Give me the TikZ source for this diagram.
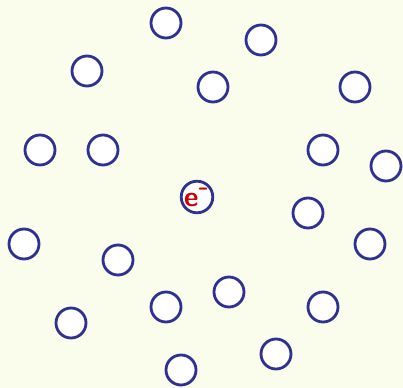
\documentclass[tikz,border=0pt]{standalone}
\usepackage{xcolor}
\usepackage{tikz}
\usetikzlibrary{shapes.geometric, positioning}
\definecolor{bgyellow}{HTML}{FBFDEC}
\definecolor{atomblue}{HTML}{2E3192}
\definecolor{elecred}{HTML}{CC0000}

\begin{document}
\begin{tikzpicture}[x=0.02cm, y=-0.02cm]
\tikzstyle{atom} = [circle, minimum size=0.6cm, inner sep=0pt, draw=atomblue, fill=white, line width=1.6pt]
\tikzstyle{electron} = [atom, text=elecred, font=\sffamily\bfseries\fontsize{16}{16}\selectfont]

\fill [bgyellow] (0,0) rectangle (403,388);
\useasboundingbox (0,0) rectangle (403,388);

\node (a1) [atom] at (166,23) {};
\node (a2) [atom] at (261,40) {};
\node (a3) [atom] at (87,71) {};
\node (a4) [atom] at (213,87) {};
\node (a5) [atom] at (355,87) {};
\node (a6) [atom] at (40,150) {};
\node (a7) [atom] at (103,150) {};
\node (a8) [atom] at (323,150) {};
\node (a9) [atom] at (386,166) {};
\node (elec) [electron] at (197,197) {e$^{\textbf{-}}$};
\node (a10) [atom] at (308,213) {};
\node (a11) [atom] at (24,244) {};
\node (a12) [atom] at (370,244) {};
\node (a13) [atom] at (118,260) {};
\node (a14) [atom] at (229,292) {};
\node (a15) [atom] at (166,307) {};
\node (a16) [atom] at (323,307) {};
\node (a17) [atom] at (71,323) {};
\node (a18) [atom] at (276,354) {};
\node (a19) [atom] at (181,370) {};
\end{tikzpicture}
\end{document}
